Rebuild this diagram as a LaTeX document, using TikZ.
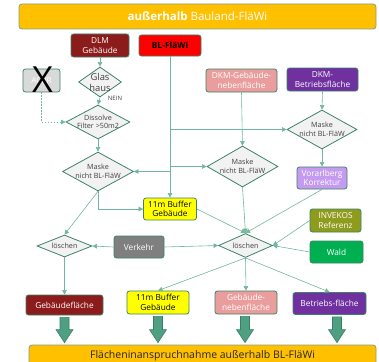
\documentclass[tikz,border=0pt]{standalone}
\usepackage{fontspec}
\setmainfont{Open Sans}
\usetikzlibrary{shapes.geometric,arrows.meta,calc}

\definecolor{bannerfill}{HTML}{FFC000}
\definecolor{bannerline}{HTML}{7E9F88}
\definecolor{boxline}{HTML}{3C8268}
\definecolor{flowline}{HTML}{6FB79B}
\definecolor{diafill}{HTML}{F2F2F2}
\definecolor{diatext}{HTML}{404040}
\definecolor{dlmred}{HTML}{8C1B1B}
\definecolor{blred}{HTML}{FF0000}
\definecolor{nebenpink}{HTML}{EA9D9D}
\definecolor{betrpurple}{HTML}{7030A0}
\definecolor{vorlilac}{HTML}{C59BF0}
\definecolor{involive}{HTML}{8E9B1D}
\definecolor{waldgreen}{HTML}{00B050}
\definecolor{verkgray}{HTML}{7F7F7F}
\definecolor{acprgray}{HTML}{D9D9D9}
\definecolor{bufyellow}{HTML}{FFFF00}
\definecolor{arrowfill}{HTML}{4F9F82}
\definecolor{arrowline}{HTML}{3A7F65}

% block arrow from a box down to the bottom banner
\newcommand\blockarrow[2]{%
  \coordinate (#1-top) at ($(#1.south)+(#2,2)$);
  \coordinate (#1-tip) at ($(#1-top |- bot.north)+(0,-2)$);
  \filldraw[bigarrow] ($(#1-top)+(-4.5,0)$) -- ($(#1-top)+(4.5,0)$)
    -- ($(#1-tip)+(4.5,-13)$) -- ($(#1-tip)+(8.5,-13)$) -- (#1-tip)
    -- ($(#1-tip)+(-8.5,-13)$) -- ($(#1-tip)+(-4.5,-13)$) -- cycle;}

\begin{document}
\begin{tikzpicture}[x=1pt,y=-1pt,
  sz/.style 2 args={minimum width=#1, minimum height=#2},
  banner/.style={rectangle, rounded corners=3pt, draw=bannerline, line width=0.8pt,
    fill=bannerfill, inner sep=0pt},
  box/.style={rectangle, rounded corners=2.5pt, draw=boxline, line width=0.8pt,
    align=center, text=white, inner sep=0pt,
    font=\fontsize{8.3}{9.5}\selectfont},
  dia/.style={diamond, draw=boxline, line width=0.8pt, fill=diafill, inner sep=0pt},
  diatxt/.style={align=center, text=diatext, inner sep=0pt,
    font=\fontsize{7.2}{8.5}\selectfont},
  conn/.style={draw=flowline, line width=0.6pt,
    -{Triangle[length=4.5pt,width=4.5pt]}},
  dashconn/.style={conn, dashed, dash pattern=on 1.5pt off 1.5pt},
  bigarrow/.style={fill=arrowfill, draw=arrowline, line width=0.6pt}]
\useasboundingbox (0,0) rectangle (379,361);
\clip (0,0) rectangle (379,361);

% banners
\node[banner, sz={357}{25}, text=white, font=\fontsize{11.5}{13}\selectfont]
  (top) at (197.5,16.5) {\textbf{außerhalb} Bauland-FläWi};
\node[banner, sz={347}{24}, text=black!85, font=\fontsize{10.5}{12}\selectfont]
  (bot) at (202.5,357) {\underline{Flächeninanspruchnahme außerhalb BL-FläWi}};

% source layers
\node[box, sz={58}{23}, fill=dlmred] (dlm) at (100,45.5) {DLM\\Gebäude};
\node[box, sz={62}{21}, fill=blred, text=black, font=\bfseries\fontsize{8.5}{10}\selectfont]
  (bl) at (170,45.5) {BL-FläWi};
\node[box, sz={71}{23}, fill=nebenpink] (dkmg) at (241.5,80.5) {DKM-Gebäude-\\nebenfläche};
\node[box, sz={71}{23}, fill=betrpurple] (dkmb) at (322.5,79.5) {DKM-\\Betriebsfläche};
\node[box, sz={37}{23}, fill=acprgray] (acpr) at (41.5,80.5) {ACPR};
\node[text=black, inner sep=0pt, font=\fontsize{36}{36}\selectfont] (cross) at (42.5,80) {X};

% decisions
\node[dia, sz={43}{30}, label={[diatxt, font=\fontsize{9.4}{11}\selectfont]center:Glas\\haus}]
  (glas) at (100,82) {};
\node[dia, sz={64}{34}, label={[diatxt]center:Dissolve\\Filter >50m2}] (diss) at (98,122) {};
\node[dia, sz={71}{39}, label={[diatxt]center:Maske\\nicht BL-FläW}] (mask1) at (98,171.5) {};
\node[dia, sz={71}{41}, label={[diatxt]center:Maske\\nicht BL-FläW}] (mask2) at (242.5,166.5) {};
\node[dia, sz={70}{39}, label={[diatxt]center:Maske\\nicht BL-FläW}] (mask3) at (322,129.5) {};
\node[dia, sz={55}{22}, label={[diatxt]center:löschen}] (del1) at (64.5,246) {};
\node[dia, sz={54}{24}, label={[diatxt]center:löschen}] (del2) at (245.5,245.5) {};

% intermediate layers
\node[box, sz={50}{22}, fill=vorlilac] (vor) at (322,178) {Vorarlberg\\Korrektur};
\node[box, sz={53}{22}, fill=bufyellow, text=black] (buf) at (170,209) {11m Buffer\\Gebäude};
\node[box, sz={51}{23}, fill=involive] (inv) at (335.5,220.5) {INVEKOS\\Referenz};
\node[box, sz={53}{22}, fill=waldgreen] (wald) at (336.5,252) {Wald};
\node[box, sz={50}{22}, fill=verkgray] (verk) at (139,247) {Verkehr};

% result layers
\node[box, sz={77}{20}, fill=dlmred] (gf) at (64.5,305) {Gebäudefläche};
\node[box, sz={62}{23}, fill=bufyellow, text=black] (buf2) at (158,302.5) {11m Buffer\\Gebäude};
\node[box, sz={62}{23}, fill=nebenpink] (gnf) at (246,302.5) {Gebäude-\\nebenfläche};
\node[box, sz={73}{22}, fill=betrpurple] (bf) at (329.5,303.5) {Betriebs-fläche};

\node[text=diatext, inner sep=0pt, font=\fontsize{6}{7}\selectfont] (nein) at (115,98) {NEIN};

% connectors
\draw[conn] (dlm.south) -- (glas.north);
\draw[conn] (glas.south) -- (diss.north);
\draw[dashconn] (acpr.south) -- (acpr.south |- diss.west) -- (diss.west);
\draw[conn] (diss.south) -- (mask1.north);
\draw[conn] (bl.south) -- (bl.south |- buf.north);
\draw[conn] (bl.south |- mask3.west) -- (mask3.west);
\draw[conn] (bl.south |- mask2.west) -- (mask2.west);
\draw[conn] (bl.south |- mask1.east) -- (mask1.east);
\draw[conn] (mask1.south) -- (mask1.south |- buf.west) -- (buf.west);
\draw[conn] (mask1.south) -- (del1.north);
\draw[conn] (verk.west) -- (del1.east);
\draw[conn] (verk.east) -- (del2.west);
\draw[conn] (dkmg.south) -- (mask2.north);
\draw[conn] (dkmb.south) -- (mask3.north);
\draw[conn] (mask3.south) -- (vor.north);
\draw[conn] (mask2.south) -- (del2.north);
\draw[conn] (buf.east) -- (del2.north);
\draw[conn] (vor.south) -- (del2.north);
\draw[conn] (inv.west) -- (del2.east);
\draw[conn] (wald.west) -- (del2.east);
\draw[conn] (del1.south) -- (gf.north);
\draw[conn] (del2.south) -- (buf2.north);
\draw[conn] (del2.south) -- (gnf.north);
\draw[conn] (del2.south) -- (bf.north);

% flows into the bottom banner
\blockarrow{gf}{0}
\blockarrow{buf2}{0}
\blockarrow{gnf}{-1}
\blockarrow{bf}{7.5}
\end{tikzpicture}
\end{document}
